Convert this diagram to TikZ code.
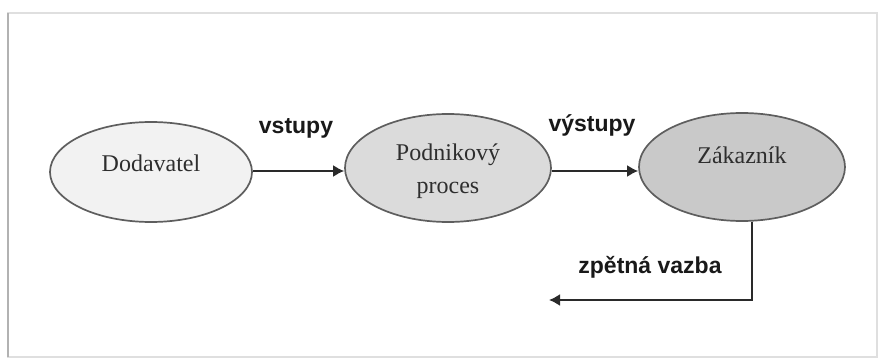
\documentclass[tikz,border=0pt]{standalone}
\usepackage{fontspec}
\setmainfont{Liberation Serif}
\newfontfamily\labelfont{Liberation Sans}
\usetikzlibrary{shapes.geometric,arrows.meta}
\definecolor{ringgray}{HTML}{5E5E5E}
\definecolor{arrowgray}{HTML}{2A2A2A}
\tikzset{
  party/.style={ellipse, draw=ringgray, line width=1.7pt, minimum width=#1, align=center,
    inner sep=0pt},
  partytext/.style={font=\fontsize{24}{33}\selectfont, text=black!82, align=center},
  flow/.style={draw=arrowgray, line width=1.8pt, -{Latex[length=11pt,width=12pt]}},
  flowlabel/.style={font=\labelfont\bfseries\fontsize{23}{26}\selectfont, text=black!90, inner sep=0pt}
}
\begin{document}
\begin{tikzpicture}[x=1pt,y=-1pt]
  \useasboundingbox (0,0) rectangle (879,358);
  % page frame with soft edge
  \draw[gray!25, line width=1.5pt] (8,13) rectangle (877,357);
  \draw[gray!60, line width=1.6pt] (8,13) -- (8,357);
  % process chain
  \node[party=202pt, minimum height=100pt, fill=black!5] (sup) at (151,172) {};
  \node[party=206pt, minimum height=108pt, fill=black!14] (proc) at (448,168) {};
  \node[party=206pt, minimum height=108pt, fill=black!21] (cust) at (742,167) {};
  \node[partytext] (supt) at (151,163) {Dodavatel};
  \node[partytext] (proct) at (448,171) {Podnikový\\proces};
  \node[partytext] (custt) at (742,155) {Zákazník};
  \draw[flow] (sup.east |- 0,171) -- (proc.west |- 0,171);
  \draw[flow] (proc.east |- 0,171) -- (cust.west |- 0,171);
  \node[flowlabel] (in) at (296,128) {vstupy};
  \node[flowlabel] (out) at (592,125) {výstupy};
  % feedback loop
  \coordinate (fbend) at (549,300);
  \draw[flow] (cust.south -| 752,0) |- (fbend);
  \node[flowlabel] (fb) at (650,267) {zpětná vazba};
\end{tikzpicture}
\end{document}
